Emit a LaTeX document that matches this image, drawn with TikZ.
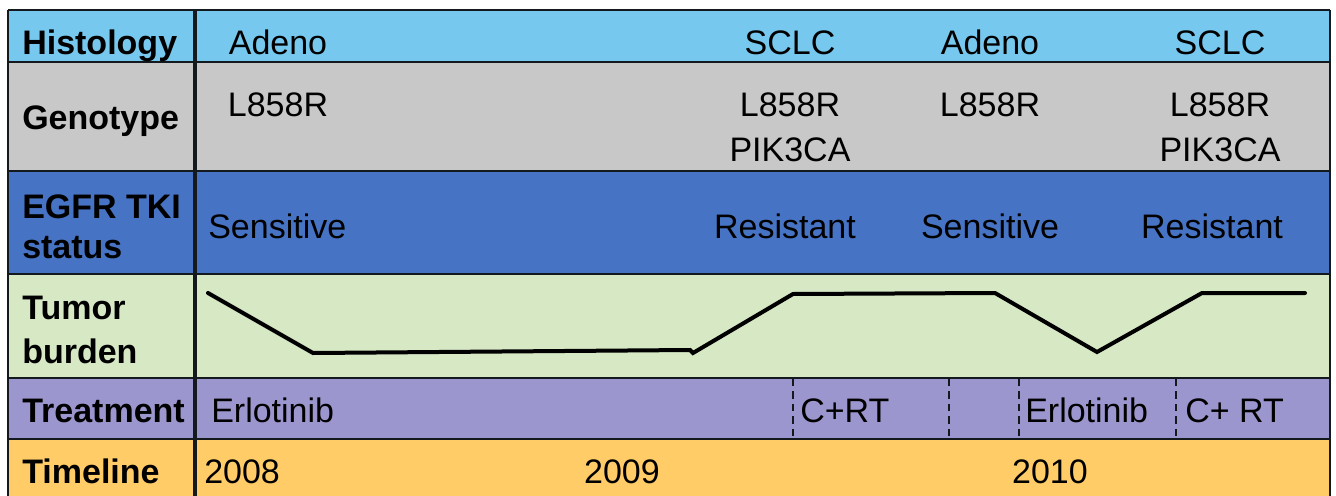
\documentclass[tikz,border=0pt]{standalone}
\usepackage{fontspec}
\setmainfont{Liberation Sans}
\definecolor{histc}{RGB}{118,200,238}
\definecolor{genoc}{RGB}{200,200,200}
\definecolor{egfrc}{RGB}{70,115,195}
\definecolor{tumc}{RGB}{214,232,196}
\definecolor{treatc}{RGB}{156,150,206}
\definecolor{timec}{RGB}{255,204,104}
\definecolor{linec}{RGB}{20,25,30}
\tikzset{
  rowlabel/.style={anchor=base west, inner sep=0pt, font=\fontsize{25.5}{30}\selectfont\bfseries},
  cell/.style={anchor=base, inner sep=0pt, font=\fontsize{25.5}{30}\selectfont},
  cellw/.style={anchor=base west, inner sep=0pt, font=\fontsize{25.5}{30}\selectfont},
  gridline/.style={draw=linec, line width=1.8pt},
  divline/.style={draw=linec, line width=2.3pt},
  dashline/.style={draw=linec, line width=2.1pt, dash pattern=on 5.5pt off 3.8pt},
  burden/.style={draw=black, line width=3pt, line join=miter, line cap=round}
}
\begin{document}
\begin{tikzpicture}[x=0.75pt,y=-0.75pt]
\useasboundingbox (0,0) rectangle (1336,496);
\fill[white] (0,0) rectangle (1336,496);
% row fills
\fill[histc] (8,10) rectangle (1330,62);
\fill[genoc] (8,62) rectangle (1330,171);
\fill[egfrc] (8,171) rectangle (1330,274);
\fill[tumc] (8,274) rectangle (1330,378);
\fill[treatc] (8,378) rectangle (1330,439);
\fill[timec] (8,439) rectangle (1330,496);
% grid
\foreach \yy in {10,62,171,274,378,439} \draw[gridline] (8,\yy) -- (1330,\yy);
\draw[gridline] (8,10) -- (8,496);
\draw[gridline] (1330,10) -- (1330,496);
\draw[divline] (195,10) -- (195,496);
% treatment dashed separators
\foreach \xx in {793,949,1019,1176} \draw[dashline] (\xx,379) -- (\xx,439);

% row labels
\node[rowlabel] (lhist) at (22,54) {Histology};
\node[rowlabel] (lgeno) at (22,129) {Genotype};
\node[rowlabel] (legfr1) at (22,218) {EGFR TKI};
\node[rowlabel] (legfr2) at (22,258) {status};
\node[rowlabel] (ltum1) at (22,319) {Tumor};
\node[rowlabel] (ltum2) at (22,363) {burden};
\node[rowlabel] (ltreat) at (22,422) {Treatment};
\node[rowlabel] (ltime) at (22,483) {Timeline};

% histology
\node[cell] (h1) at (278,55) {Adeno};
\node[cell] (h2) at (790,55) {SCLC};
\node[cell] (h3) at (990,55) {Adeno};
\node[cell] (h4) at (1220,55) {SCLC};

% genotype
\node[cell] (g1) at (278,116) {L858R};
\node[cell] (g2a) at (790,116) {L858R};
\node[cell] (g2b) at (790,161) {PIK3CA};
\node[cell] (g3) at (990,116) {L858R};
\node[cell] (g4a) at (1220,116) {L858R};
\node[cell] (g4b) at (1220,161) {PIK3CA};

% EGFR TKI status
\node[cellw] (e1) at (208,238) {Sensitive};
\node[cell] (e2) at (785,238) {Resistant};
\node[cell] (e3) at (990,238) {Sensitive};
\node[cell] (e4) at (1212,238) {Resistant};

% tumor burden curve
\coordinate (t0) at (208,293);
\coordinate (t1) at (313,353);
\coordinate (t2) at (690,350);
\coordinate (t3) at (693,353);
\coordinate (t4) at (793,294);
\coordinate (t5) at (995,293);
\coordinate (t6) at (1097,352);
\coordinate (t7) at (1202,293);
\coordinate (t8) at (1305,293);
\draw[burden] (t0) -- (t1) -- (t2) -- (t3) -- (t4) -- (t5) -- (t6) -- (t7) -- (t8);

% treatment
\node[cellw] (r1) at (211,422) {Erlotinib};
\node[cellw] (r2) at (800,422) {C+RT};
\node[cellw] (r3) at (1025,422) {Erlotinib};
\node[cellw] (r4) at (1185,422) {C+ RT};

% timeline
\node[cellw] (y1) at (204,483) {2008};
\node[cell] (y2) at (622,483) {2009};
\node[cell] (y3) at (1050,483) {2010};
\end{tikzpicture}
\end{document}
